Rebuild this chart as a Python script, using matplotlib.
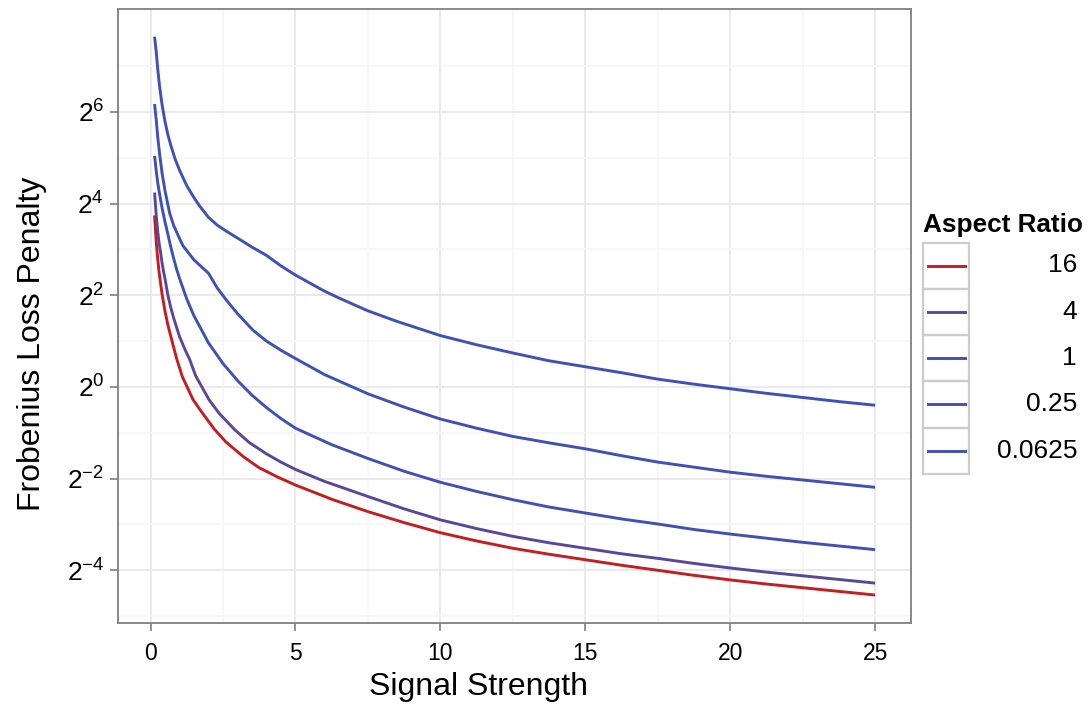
import numpy as np
import matplotlib
matplotlib.use("Agg")
import matplotlib.pyplot as plt
from matplotlib.patches import Rectangle
from matplotlib.lines import Line2D

plt.rcParams['font.family'] = ['Liberation Sans', 'DejaVu Sans']
plt.rcParams['mathtext.fontset'] = 'custom'
plt.rcParams['mathtext.rm'] = 'Liberation Sans'
plt.rcParams['mathtext.it'] = 'Liberation Sans'

# values (y is log2 of the penalty)
ratios = ["16", "4", "1", "0.25", "0.0625"]
colors = ["#C41E22", "#5A4799", "#3F51B5", "#3F51B5", "#3F51B5"]

x_16 = [0.14, 0.2, 0.25, 0.3, 0.4, 0.5, 0.6, 0.75, 0.9, 1.1, 1.3, 1.47, 1.79, 2.2, 2.6, 3.2, 3.74, 4.4,
        5.0, 6.25, 7.5, 8.75, 10, 11.25, 12.5, 13.75, 15, 16.25, 17.5, 18.75, 20, 21.25, 22.5, 23.75, 25]
y_16 = [3.74, 3.15, 2.78, 2.48, 2.02, 1.65, 1.35, 0.98, 0.62, 0.22, -0.05, -0.28, -0.57, -0.92, -1.20, -1.52, -1.76, -1.97,
        -2.14, -2.45, -2.72, -2.96, -3.18, -3.36, -3.52, -3.65, -3.77, -3.89, -4.0, -4.11, -4.21, -4.30, -4.38, -4.46, -4.54]

x_4 = [0.14, 0.2, 0.25, 0.3, 0.35, 0.4, 0.45, 0.5, 0.6, 0.7, 0.8, 1.0, 1.2, 1.35, 1.56, 2.02, 2.36, 2.9, 3.4, 4.0, 4.5,
       5.0, 6.0, 7.5, 8.75, 10, 11.25, 12.5, 13.75, 15, 16.25, 17.5, 18.75, 20, 21.25, 22.5, 23.75, 25]
y_4 = [4.24, 3.72, 3.38, 3.12, 2.92, 2.70, 2.52, 2.36, 2.0, 1.73, 1.50, 1.10, 0.80, 0.60, 0.24, -0.28, -0.57, -0.93, -1.21, -1.46, -1.64,
       -1.80, -2.06, -2.39, -2.66, -2.90, -3.09, -3.26, -3.40, -3.52, -3.64, -3.74, -3.85, -3.95, -4.04, -4.12, -4.20, -4.28]

x_1 = [0.14, 0.2, 0.25, 0.31, 0.4, 0.5, 0.6, 0.7, 0.8, 0.9, 1.0, 1.25, 1.5, 2.0, 2.5, 3.0, 3.5, 4.0, 4.5,
       5.0, 6.25, 7.5, 8.75, 10, 11.25, 12.5, 13.75, 15, 16.25, 17.5, 18.75, 20, 21.25, 22.5, 23.75, 25]
y_1 = [5.04, 4.70, 4.45, 4.22, 3.90, 3.60, 3.33, 3.05, 2.80, 2.57, 2.37, 1.92, 1.55, 0.96, 0.51, 0.14, -0.18, -0.45, -0.69,
       -0.90, -1.26, -1.56, -1.84, -2.08, -2.28, -2.46, -2.62, -2.75, -2.88, -2.99, -3.11, -3.21, -3.30, -3.39, -3.47, -3.55]

x_025 = [0.14, 0.2, 0.25, 0.31, 0.4, 0.5, 0.66, 0.8, 1.0, 1.12, 1.5, 2.0, 2.3, 2.61, 3.0, 3.53, 4.0, 4.5,
         5.0, 6.0, 7.5, 8.75, 10, 11.25, 12.5, 13.75, 15, 16.25, 17.5, 18.75, 20, 21.25, 22.5, 23.75, 25]
y_025 = [6.17, 5.81, 5.45, 5.10, 4.66, 4.28, 3.79, 3.52, 3.24, 3.08, 2.77, 2.48, 2.16, 1.90, 1.60, 1.24, 1.00, 0.80,
         0.62, 0.27, -0.15, -0.44, -0.70, -0.90, -1.08, -1.22, -1.35, -1.50, -1.64, -1.75, -1.86, -1.95, -2.03, -2.11, -2.19]

x_0625 = [0.14, 0.2, 0.25, 0.31, 0.4, 0.5, 0.6, 0.71, 0.85, 1.0, 1.25, 1.5, 1.69, 2.0, 2.3, 2.61, 3.07, 3.5, 4.0, 4.5,
          5.0, 6.0, 6.5, 7.5, 8.5, 10, 11.25, 12.5, 13.75, 15, 16.25, 17.5, 18.75, 20, 21.25, 22.5, 23.75, 25]
y_0625 = [7.64, 7.29, 6.93, 6.57, 6.15, 5.79, 5.50, 5.25, 4.97, 4.73, 4.39, 4.13, 3.95, 3.70, 3.53, 3.40, 3.22, 3.05, 2.87, 2.64,
          2.44, 2.09, 1.94, 1.66, 1.43, 1.12, 0.92, 0.74, 0.57, 0.44, 0.31, 0.17, 0.06, -0.04, -0.14, -0.23, -0.32, -0.40]

xs = [x_16, x_4, x_1, x_025, x_0625]
ys = [y_16, y_4, y_1, y_025, y_0625]

fig = plt.figure(figsize=(10.9, 7.09), dpi=100)
ax = fig.add_axes([0.1083, 0.1213, 0.7275, 0.8664])

for x, y, c in zip(xs, ys, colors):
    ax.plot(x, 2.0 ** np.array(y), color=c, lw=2.1, solid_capstyle='butt', solid_joinstyle='round')

ax.set_yscale('log', base=2)
ax.set_xlim(-1.12, 26.24)
ax.set_ylim(2 ** -5.15, 2 ** 8.25)

ax.set_xticks([0, 5, 10, 15, 20, 25])
ax.set_xticks([2.5, 7.5, 12.5, 17.5, 22.5], minor=True)
ymaj = [2.0 ** k for k in range(-4, 7, 2)]
ax.set_yticks(ymaj)
ax.set_yticklabels([r'$2^{%d}$' % k for k in range(-4, 7, 2)])
ax.set_yticks([2.0 ** k for k in range(-5, 9, 2)], minor=True)
ax.yaxis.set_minor_formatter(matplotlib.ticker.NullFormatter())

ax.grid(which='major', color='#E8E8E8', lw=1.3)
ax.grid(which='minor', color='#F7F7F7', lw=1.3)
ax.set_axisbelow(True)
for s in ax.spines.values():
    s.set_color('#7F7F7F')
    s.set_linewidth(1.3)
ax.tick_params(which='major', length=6, width=1.2, color='#7F7F7F', labelcolor='black')
ax.tick_params(axis='x', which='major', labelsize=16.5, pad=8)
ax.tick_params(axis='y', which='major', labelsize=19, pad=4)
ax.tick_params(which='minor', length=0)

ax.set_xlabel('Signal Strength', fontsize=23)
ax.set_ylabel('Frobenius Loss Penalty', fontsize=23)
ax.xaxis.set_label_coords(0.455, -0.08)
ax.yaxis.set_label_coords(-0.09, 0.455)

# legend drawn in pixel coordinates of the figure
lax = fig.add_axes([0, 0, 1, 1], facecolor='none')
lax.set_xlim(0, 1090)
lax.set_ylim(709, 0)
lax.axis('off')
lax.text(923, 232, 'Aspect Ratio', fontsize=18.8, fontweight='bold', ha='left', va='baseline')
for i, (lab, c) in enumerate(zip(ratios, colors)):
    top = 242.5 + i * 46.3
    lax.add_patch(Rectangle((923, top), 46.3, 46.3, fill=False, ec='#CCCCCC', lw=1.6))
    lax.add_line(Line2D([927.5, 964.5], [top + 23, top + 23], color=c, lw=2.1))
    lax.text(1077, top + 23, lab, fontsize=19, ha='right', va='center')

fig.savefig('out.png', dpi=100)
